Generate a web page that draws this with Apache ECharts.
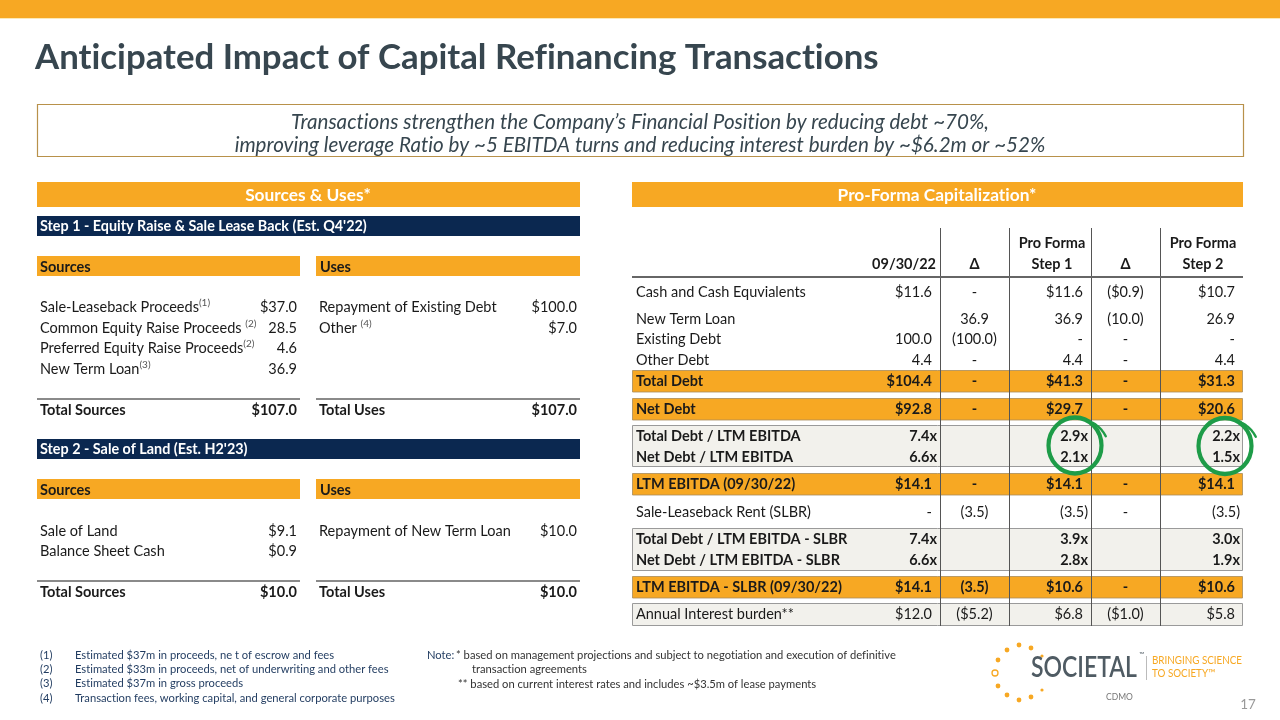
<!DOCTYPE html>
<html><head><meta charset="utf-8">
<script src="https://cdn.jsdelivr.net/npm/echarts@6/dist/echarts.min.js"></script>
<style>html,body{margin:0;padding:0;background:#fff}#c{width:1280px;height:720px}</style>
</head><body><div id="c"></div>
<script>
// ---------------- DATA ----------------
const titleText = 'Anticipated Impact of Capital Refinancing Transactions';
const subtitleLines = [
  'Transactions strengthen the Company\u2019s Financial Position by reducing debt ~70%,',
  'improving leverage Ratio by ~5 EBITDA turns and reducing interest burden by ~$6.2m or ~52%'
];
const leftHeader = 'Sources & Uses*';
const rightHeader = 'Pro-Forma Capitalization*';

const step1Title = "Step 1 - Equity Raise & Sale Lease Back (Est. Q4'22)";
const step1SourceLabels = ['Sale-Leaseback Proceeds', 'Common Equity Raise Proceeds ', 'Preferred Equity Raise Proceeds', 'New Term Loan'];
const step1SourceNotes = ['(1)', '(2)', '(2)', '(3)'];
const step1SourceValues = ['$37.0', '28.5', '4.6', '36.9'];
const step1UseLabels = ['Repayment of Existing Debt', 'Other '];
const step1UseNotes = ['', '(4)'];
const step1UseValues = ['$100.0', '$7.0'];
const step1Totals = ['$107.0', '$107.0'];

const step2Title = "Step 2 - Sale of Land (Est. H2'23)";
const step2SourceLabels = ['Sale of Land', 'Balance Sheet Cash'];
const step2SourceValues = ['$9.1', '$0.9'];
const step2UseLabels = ['Repayment of New Term Loan'];
const step2UseValues = ['$10.0'];
const step2Totals = ['$10.0', '$10.0'];

const capHeaders = ['09/30/22', '\u0394', 'Pro Forma\nStep 1', '\u0394', 'Pro Forma\nStep 2'];
const capRowLabels = ['Cash and Cash Equvialents', 'New Term Loan', 'Existing Debt', 'Other Debt', 'Total Debt', 'Net Debt',
  'Total Debt / LTM EBITDA', 'Net Debt / LTM EBITDA', 'LTM EBITDA (09/30/22)', 'Sale-Leaseback Rent (SLBR)',
  'Total Debt / LTM EBITDA - SLBR', 'Net Debt / LTM EBITDA - SLBR', 'LTM EBITDA - SLBR (09/30/22)', 'Annual Interest burden**'];
const cap0930  = ['$11.6', '', '100.0', '4.4', '$104.4', '$92.8', '7.4x', '6.6x', '$14.1', '-', '7.4x', '6.6x', '$14.1', '$12.0'];
const capDelta1 = ['-', '36.9', '(100.0)', '-', '-', '-', '', '', '-', '(3.5)', '', '', '(3.5)', '($5.2)'];
const capStep1 = ['$11.6', '36.9', '-', '4.4', '$41.3', '$29.7', '2.9x', '2.1x', '$14.1', '(3.5)', '3.9x', '2.8x', '$10.6', '$6.8'];
const capDelta2 = ['($0.9)', '(10.0)', '-', '-', '-', '-', '', '', '-', '-', '', '', '-', '($1.0)'];
const capStep2 = ['$10.7', '26.9', '-', '4.4', '$31.3', '$20.6', '2.2x', '1.5x', '$14.1', '(3.5)', '3.0x', '1.9x', '$10.6', '$5.8'];

const footnotes = [
  ['(1)', 'Estimated $37m in proceeds, ne t of escrow and fees'],
  ['(2)', 'Estimated $33m in proceeds, net of underwriting and other fees'],
  ['(3)', 'Estimated $37m in gross proceeds'],
  ['(4)', 'Transaction fees, working capital, and general corporate purposes']
];
const noteLines = [
  '* based on management projections and subject to negotiation and execution of definitive',
  'transaction agreements',
  '** based on current interest rates and includes ~$3.5m of lease payments'
];
const pageNumber = '17';

// ---------------- LAYOUT / STYLE ----------------
const FONT = 'Lato, Carlito, Calibri, "Noto Sans", sans-serif';
const ORANGE = '#F7A823';
const NAVY = '#0B2850';
const SLATE = '#37464F';
const INK = '#1A1A1A';
const BEIGE = '#F2F1EC';
const G = [];

// break Lato's decorative ligatures (ti, fi, ...) with zero-width non-joiners
function nl(s) { return String(s).replace(/([ft])(?=[iflt])/g, '$1\u200C'); }
const mctx = document.createElement('canvas').getContext('2d');
function fontStr(size, bold, italic) { return (italic ? 'italic ' : '') + (bold === true ? 'bold ' : (bold ? bold + ' ' : '')) + size + 'px ' + FONT; }
function measure(text, size, bold, italic) { mctx.font = fontStr(size, bold, italic); return mctx.measureText(nl(text)).width; }
function fitSize(text, width, bold, italic) { return 20 * width / measure(text, 20, bold, italic); }

const TITLE = 34.8;
const SUB = 20.6;
const LEFT = fitSize('Sale-Leaseback Proceeds', 159);
const RIGHT = fitSize('Cash and Cash Equvialents', 170);
const STEP = fitSize(step1Title, 327, true);
const HEAD = fitSize(rightHeader, 199, true);

function rect(x, y, w, h, fill, stroke, lw) {
  G.push({ type: 'rect', shape: { x, y, width: w, height: h }, style: { fill, stroke: stroke || null, lineWidth: lw || 0 }, silent: true });
}
function line(x1, y1, x2, y2, stroke, lw) {
  G.push({ type: 'line', shape: { x1, y1, x2, y2 }, style: { stroke, lineWidth: lw || 1 }, silent: true });
}
function txt(x, y, text, o) {
  o = o || {};
  const el = { type: 'text', x, y, silent: true, z: 10, style: {
    text: nl(text), fill: o.color || INK, font: fontStr(o.size || LEFT, o.bold, o.italic),
    align: o.align || 'left', verticalAlign: o.va || 'middle', lineHeight: o.lh, rich: o.rich
  }};
  if (o.sx) { el.scaleX = o.sx; el.originX = 0; el.originY = 0; }
  G.push(el);
}
function noted(x, y, label, note, o) {
  o = o || {};
  if (!note) { txt(x, y, label, o); return; }
  txt(x, y, '{a|' + nl(label) + '}{s|' + note + '}', Object.assign({}, o, { rich: {
    a: { font: fontStr(o.size || LEFT), fill: INK },
    s: { font: fontStr(10), fill: '#555', padding: [0, 0, 9, 0] }
  }}));
}

// top bar
rect(0, 0, 1280, 18, ORANGE);
line(0, 18.5, 1280, 18.5, '#FCE9B8', 1);
// title
txt(35, 58, titleText, { size: TITLE, bold: true, color: SLATE });
// subtitle box
rect(37.5, 104.5, 1206, 52, '#fff', '#B8914A', 1.2);
txt(640, 122, subtitleLines[0], { size: SUB, italic: true, color: SLATE, align: 'center' });
txt(640, 145, subtitleLines[1], { size: SUB, italic: true, color: SLATE, align: 'center' });

// ---- left: Sources & Uses ----
rect(37, 182, 543, 25, ORANGE);
txt(308, 195, leftHeader, { size: HEAD, bold: true, color: '#fff', align: 'center' });

function block(top, title, sLabels, sNotes, sVals, uLabels, uNotes, uVals, totals, rowYs, lineY) {
  rect(37, top, 543, 20, NAVY);
  txt(40, top + 10.5, title, { size: STEP, bold: true, color: '#fff' });
  rect(37, top + 40, 263, 20, ORANGE);
  rect(316, top + 40, 264, 20, ORANGE);
  txt(40, top + 51, 'Sources', { bold: true });
  txt(320, top + 51, 'Uses', { bold: true });
  sLabels.forEach((l, i) => {
    noted(40, rowYs[i], l, sNotes ? sNotes[i] : '', {});
    txt(297, rowYs[i], sVals[i], { align: 'right' });
  });
  uLabels.forEach((l, i) => {
    noted(319, rowYs[i], l, uNotes ? uNotes[i] : '', {});
    txt(577, rowYs[i], uVals[i], { align: 'right' });
  });
  line(37, lineY, 300, lineY, '#8A8A8A', 2);
  line(316, lineY, 580, lineY, '#8A8A8A', 2);
  txt(40, lineY + 11, 'Total Sources', { bold: true });
  txt(297, lineY + 11, totals[0], { bold: true, align: 'right' });
  txt(319, lineY + 11, 'Total Uses', { bold: true });
  txt(577, lineY + 11, totals[1], { bold: true, align: 'right' });
}
block(216, step1Title, step1SourceLabels, step1SourceNotes, step1SourceValues, step1UseLabels, step1UseNotes, step1UseValues, step1Totals, [307, 328, 348, 369], 399);
block(439, step2Title, step2SourceLabels, null, step2SourceValues, step2UseLabels, null, step2UseValues, step2Totals, [531, 551], 581);

// ---- right: Pro-Forma Capitalization ----
rect(632, 182, 611, 25, ORANGE);
txt(937, 195, rightHeader, { size: HEAD, bold: true, color: '#fff', align: 'center' });

const capY = [292, 319, 339, 360, 381, 409, 436, 457, 484, 512, 539, 560, 587, 614];
const orangeRows = [4, 5, 8, 12];
const boldRows = [4, 5, 6, 7, 8, 10, 11, 12];
const boxes = [[425, 41], [528, 42], [603, 22]];
const vLines = [940, 1009, 1091, 1160];
boxes.forEach(b => rect(632.5, b[0] + 0.5, 610, b[1], BEIGE, '#9A9A9A', 1));
orangeRows.forEach(r => rect(632.5, capY[r] - 10.5, 610, 21.5, ORANGE, '#A88B5A', 0.8));
vLines.forEach(x => line(x + 0.5, 228, x + 0.5, 626, '#555', 1));
line(632, 277, 1243, 277, '#666', 2);
txt(936, 264, capHeaders[0], { size: RIGHT, bold: true, align: 'right' });
txt(974.5, 264, capHeaders[1], { size: RIGHT, bold: true, align: 'center' });
txt(1052, 254, capHeaders[2], { size: RIGHT, bold: true, align: 'center', lh: 21 });
txt(1125.5, 264, capHeaders[3], { size: RIGHT, bold: true, align: 'center' });
txt(1203, 254, capHeaders[4], { size: RIGHT, bold: true, align: 'center', lh: 21 });
function capVal(x, y, v, bold) {
  const tight = /[x)]$/.test(v);
  txt(tight ? x - 3 : x - 8, y, v, { size: RIGHT, bold, align: 'right' });
}
capRowLabels.forEach((l, i) => {
  const b = boldRows.includes(i);
  const y = capY[i];
  txt(636, y, l, { size: RIGHT, bold: b });
  capVal(940, y, cap0930[i], b);
  txt(974.5, y, capDelta1[i], { size: RIGHT, bold: b, align: 'center' });
  capVal(1091, y, capStep1[i], b);
  txt(1125.5, y, capDelta2[i], { size: RIGHT, bold: b, align: 'center' });
  capVal(1243, y, capStep2[i], b);
});
// green hand-drawn circles around the pro-forma leverage ratios
const GREEN = '#1E9C48';
[[1075, 445.5], [1225, 446]].forEach(c => {
  const rx = 26.5, ry = 28;
  G.push({ type: 'circle', z: 20, silent: true, shape: { cx: 0, cy: 0, r: rx }, x: c[0], y: c[1], scaleY: ry / rx,
    style: { stroke: GREEN, lineWidth: 4.2, fill: null, strokeNoScale: true } });
  const pts = [];
  for (let k = 0; k <= 12; k++) {
    const a = (-62 + k * 46 / 12) * Math.PI / 180;
    const grow = k * 5.5 / 12;
    pts.push([c[0] + (rx + grow) * Math.cos(a), c[1] + (ry + grow) * Math.sin(a)]);
  }
  G.push({ type: 'polyline', z: 20, silent: true, shape: { points: pts, smooth: 0.3 },
    style: { stroke: GREEN, lineWidth: 2.4, fill: null, lineCap: 'round' } });
});

// ---- footnotes ----
footnotes.forEach((f, i) => {
  const y = 655 + i * 14.3;
  txt(40, y, f[0], { size: 11.2, color: '#1F3A5F' });
  txt(75, y, f[1], { size: 11.2, color: '#1F3A5F' });
});
txt(427, 655, 'Note:', { size: 11.2, color: '#1F3A5F' });
txt(456, 655, noteLines[0], { size: 11.2, color: '#333' });
txt(472, 669, noteLines[1], { size: 11.2, color: '#333' });
txt(458, 684, noteLines[2], { size: 11.2, color: '#333' });

// ---- logo ----
[[1019, 645], [1007, 650], [1031, 648], [1042, 656], [998, 660], [998, 686], [1007, 695], [1019, 700], [1031, 697], [1042, 690]].forEach((d, i) => {
  G.push({ type: 'circle', silent: true, shape: { cx: d[0], cy: d[1], r: (i === 3 || i === 9) ? 1.6 : 2.4 }, style: { fill: ORANGE } });
});
G.push({ type: 'circle', silent: true, shape: { cx: 995, cy: 673, r: 3 }, style: { fill: null, stroke: ORANGE, lineWidth: 1.3 } });
const LOGO = 28;
txt(1031, 668, 'SOCIETAL', { size: LOGO, bold: 600, color: '#4F5B63', sx: 106 / measure('SOCIETAL', LOGO, 600) });
txt(1139, 655, '\u2122', { size: 7, color: '#4F5B63' });
line(1146.5, 656, 1146.5, 680, '#BBB', 1);
txt(1152, 661, 'BRINGING SCIENCE', { size: 10.8, color: ORANGE, sx: 90 / measure('BRINGING SCIENCE', 10.8) });
txt(1152, 674, 'TO SOCIETY\u2122', { size: 10.8, color: ORANGE, sx: 90 / measure('BRINGING SCIENCE', 10.8) });
txt(1106, 697, 'CDMO', { size: 8.5, color: '#777' });
txt(1248, 705, pageNumber, { size: 13.5, color: '#999', align: 'center' });

const chart = echarts.init(document.getElementById('c'), null, { renderer: 'canvas' });
chart.setOption({ backgroundColor: '#fff', animation: false, graphic: { elements: G } });
</script></body></html>
